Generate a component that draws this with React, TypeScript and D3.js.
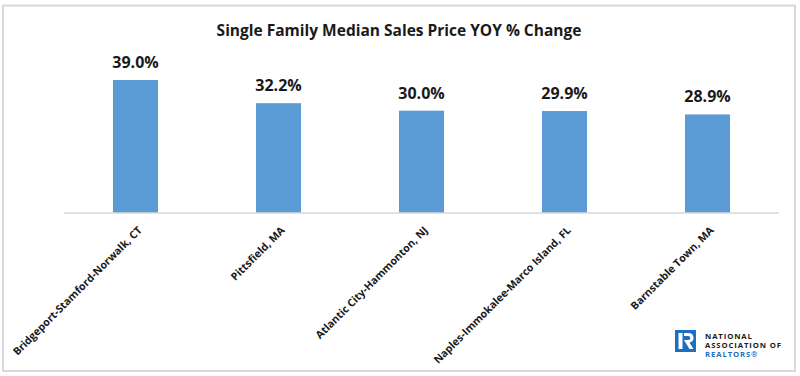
import React from "react";
import * as d3 from "d3";

const categories = [
  "Bridgeport-Stamford-Norwalk, CT",
  "Pittsfield, MA",
  "Atlantic City-Hammonton, NJ",
  "Naples-Immokalee-Marco Island, FL",
  "Barnstable Town, MA",
];
const values = [39.0, 32.2, 30.0, 29.9, 28.9];
const title = "Single Family Median Sales Price YOY % Change";

const W = 800;
const H = 376;
const FONT = "'Open Sans', 'DejaVu Sans', sans-serif";

export default function App() {
  const x = d3.scaleBand<string>().domain(categories).range([64, 779]).paddingInner(0.685).paddingOuter(0.3425);
  const y = d3.scaleLinear().domain([0, 40]).range([213, 76.6]);
  const bw = x.bandwidth();
  return (
    <svg width={W} height={H} style={{ position: "absolute", left: 0, top: 0 }}>
      <rect x={0} y={0} width={W} height={H} fill="#ffffff" />
      <rect x={3} y={5.5} width={792} height={365.5} fill="#ffffff" stroke="#d9d9d9" strokeWidth={2} />
      <text x={399} y={36} textAnchor="middle" fontFamily={FONT} fontWeight={700} fontSize={15.5} fill="#1a1a1a">
        {title}
      </text>
      {categories.map((c, i) => (
        <g key={c}>
          <rect x={x(c)} y={y(values[i])} width={bw} height={y(0) - y(values[i])} fill="#5b9bd5" />
          <text
            x={(x(c) as number) + bw / 2}
            y={y(values[i]) - 12}
            textAnchor="middle"
            fontFamily={FONT}
            fontWeight={700}
            fontSize={16}
            fill="#1a1a1a"
          >
            {values[i].toFixed(1)}%
          </text>
          <text
            transform={`translate(${(x(c) as number) + bw / 2 + 7},${231}) rotate(-45)`}
            textAnchor="end"
            fontFamily={FONT}
            fontWeight={700}
            fontSize={10.6}
            fill="#1a1a1a"
          >
            {c}
          </text>
        </g>
      ))}
      <line x1={64} x2={779} y1={213} y2={213} stroke="#d9d9d9" strokeWidth={1.5} />
      <g>
        <rect x={675} y={330} width={21} height={22} fill="#1f6fc0" />
        <rect x={678.5} y={333} width={4} height={16} fill="#ffffff" />
        <path d="M684,333 L688.5,333 C692.5,333 693.5,336 693.5,338 C693.5,340.5 692,342 689.5,342.5 L693.5,349 L689.5,349 L684,340 L688.3,340 C689.8,340 690.3,339 690.3,338 C690.3,337 689.8,336 688.3,336 L684,336 Z" fill="#ffffff" />
        <text x={705} y={338.5} fontFamily={FONT} fontWeight={700} fontSize={7.7} letterSpacing={0.9} fill="#1a1a1a">NATIONAL</text>
        <text x={705} y={347.5} fontFamily={FONT} fontWeight={700} fontSize={7.7} letterSpacing={0.9} fill="#1a1a1a">ASSOCIATION OF</text>
        <text x={705} y={356.5} fontFamily={FONT} fontWeight={700} fontSize={7.7} letterSpacing={0.9} fill="#1f6fc0">REALTORS®</text>
      </g>
    </svg>
  );
}
